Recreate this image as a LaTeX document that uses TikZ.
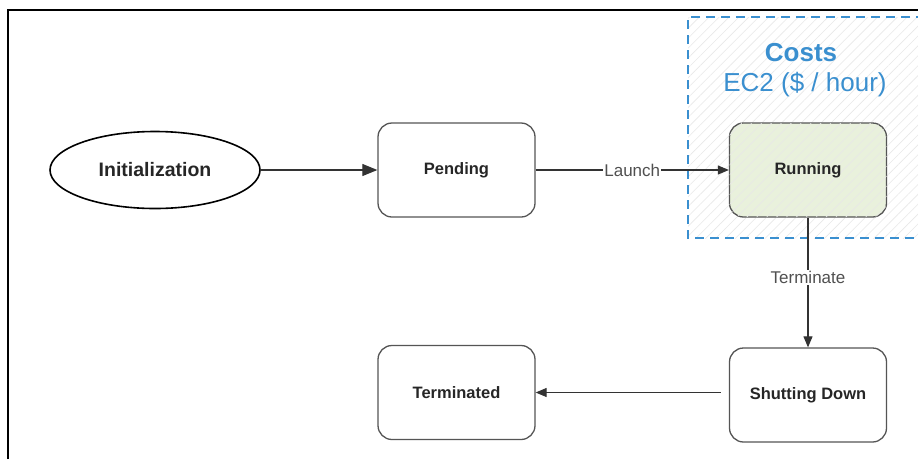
\documentclass[tikz,border=0pt]{standalone}
\usepackage{fontspec}
\setmainfont{Liberation Sans}
\usetikzlibrary{shapes.geometric,arrows.meta,patterns.meta}
\definecolor{costblue}{HTML}{3A8FCF}
\definecolor{boxgray}{HTML}{555555}
\definecolor{rungreen}{HTML}{E9F1DC}
\definecolor{labgray}{HTML}{505050}
\tikzset{
  statebox/.style={draw=boxgray, line width=1.3pt, rounded corners=14pt, minimum width=157pt, minimum height=94pt, font=\fontsize{16.5}{19}\selectfont\bfseries, text=black!85, inner sep=0pt},
  conn/.style={draw=black!80, line width=1.1pt, -{Triangle[length=11pt,width=9pt]}},
  lab/.style={font=\fontsize{17}{19}\selectfont, text=labgray, fill=white, inner sep=1pt},
  hatch/.style={pattern={Lines[angle=45,distance=7pt,line width=0.6pt]}, pattern color=black!9}
}
\begin{document}
\begin{tikzpicture}[x=1pt,y=-1pt]
\useasboundingbox (0,0) rectangle (918,459);
\fill[white] (0,0) rectangle (918,459);
% frame
\draw[black, line width=1.2pt] (8,459) -- (8,10) -- (918,10);
% cost region
\fill[hatch] (688,17) rectangle (925,238);
\draw[costblue, line width=2pt, dash pattern=on 9pt off 6pt] (925,17) -- (688,17) -- (688,238) -- (925,238);
\node[font=\fontsize{26}{30}\selectfont\bfseries, text=costblue] (costs) at (801,53) {Costs};
\node[font=\fontsize{26}{30}\selectfont, text=costblue] (ec2) at (805,85) {EC2 (\$ / hour)};
% nodes
\node[ellipse, draw=black, line width=1.6pt, minimum width=210pt, minimum height=77pt, font=\fontsize{19.5}{22}\selectfont\bfseries, text=black!85] (init) at (155,170) {Initialization};
\node[statebox] (pending) at (456.5,170) {Pending};
\node[statebox, fill=rungreen, postaction={hatch}] (running) at (808,170) {Running};
\node[statebox] (terminated) at (456.5,392.5) {Terminated};
\node[statebox] (shutting) at (808,395) {Shutting Down};
% connectors
\draw[conn, -{Triangle[length=15pt,width=12pt]}] (init.east) -- (pending.west);
\draw[conn] (pending.east) -- (running.west) node[lab, pos=0.5] (launch) {Launch};
\draw[conn] (running.south) -- (shutting.north) node[lab, pos=0.46] (term) {Terminate};
\coordinate (sdstart) at ([xshift=-8pt]shutting.west |- terminated.east);
\draw[conn] (sdstart) -- (terminated.east);
\end{tikzpicture}
\end{document}
